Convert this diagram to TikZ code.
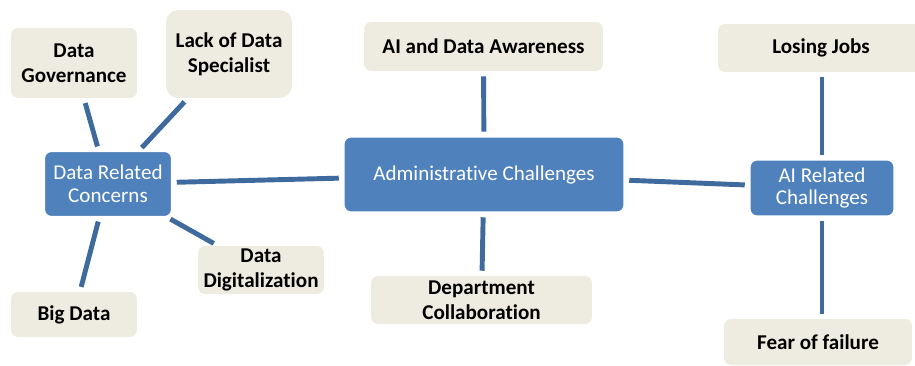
\documentclass[tikz,border=0pt]{standalone}
\usepackage{fontspec}
\setmainfont{Carlito}[Ligatures=NoCommon]
\definecolor{boxblue}{HTML}{4F81BD}
\definecolor{linkblue}{HTML}{3F6A9E}
\definecolor{boxbeige}{HTML}{EEECE1}

\begin{document}
\begin{tikzpicture}[x=0.02cm, y=-0.02cm,
  topic/.style={rectangle, rounded corners=4pt, fill=boxblue, draw=white, line width=0.6pt,
    text=white, align=center, inner sep=0pt, outer sep=0pt,
    font=\fontsize{12}{13}\selectfont},
  item/.style={rectangle, rounded corners=4pt, fill=boxbeige, align=center,
    inner sep=0pt, outer sep=0pt, font=\fontsize{12}{14}\selectfont\bfseries},
  link/.style={linkblue, line width=2.8pt, shorten >=3pt, shorten <=3pt}]

\useasboundingbox (0,0) rectangle (915,365);

% hubs
\node[topic, minimum width=2.54cm, minimum height=1.3cm] (concerns) at (108,184) {Data Related\\Concerns};
\node[topic, minimum width=5.6cm, minimum height=1.5cm] (admin) at (484,174.5) {Administrative Challenges};
\node[topic, minimum width=2.88cm, minimum height=1.12cm] (airel) at (822,188) {AI Related\\Challenges};

% data related items
\node[item, minimum width=2.52cm, minimum height=1.4cm] (govern) at (74,63) {Data\\Governance};
\node[item, rounded corners=7pt, minimum width=2.52cm, minimum height=1.76cm] (lack) at (229,54) {Lack of Data\\Specialist};
\node[item, minimum width=2.52cm, minimum height=0.96cm] (digital) at (261,270) {Data\\Digitalization};
\node[item, minimum width=2.52cm, minimum height=0.9cm] (bigdata) at (74,314.5) {Big Data};

% administrative items
\node[item, minimum width=4.78cm, minimum height=0.98cm] (aware) at (483.5,46.5) {AI and Data Awareness};
\node[item, minimum width=4.42cm, minimum height=0.96cm] (dept) at (481.5,300) {Department\\Collaboration};

% AI related items
\node[item, minimum width=4.12cm, minimum height=0.96cm] (jobs) at (821,48) {Losing Jobs};
\node[item, minimum width=3.76cm, minimum height=0.92cm] (fear) at (818,342) {Fear of failure};

% connectors
\draw[link] (concerns) -- (govern);
\draw[link] (concerns) -- (lack);
\draw[link] (concerns) -- (digital);
\draw[link] (concerns) -- (bigdata);
\draw[link] (concerns) -- (admin);
\draw[link] (admin) -- (aware);
\draw[link] (admin) -- (dept);
\draw[link] (admin) -- (airel);
\draw[link] (airel.north) -- (airel.north |- jobs.south);
\draw[link] (airel.south) -- (airel.south |- fear.north);
\end{tikzpicture}
\end{document}
